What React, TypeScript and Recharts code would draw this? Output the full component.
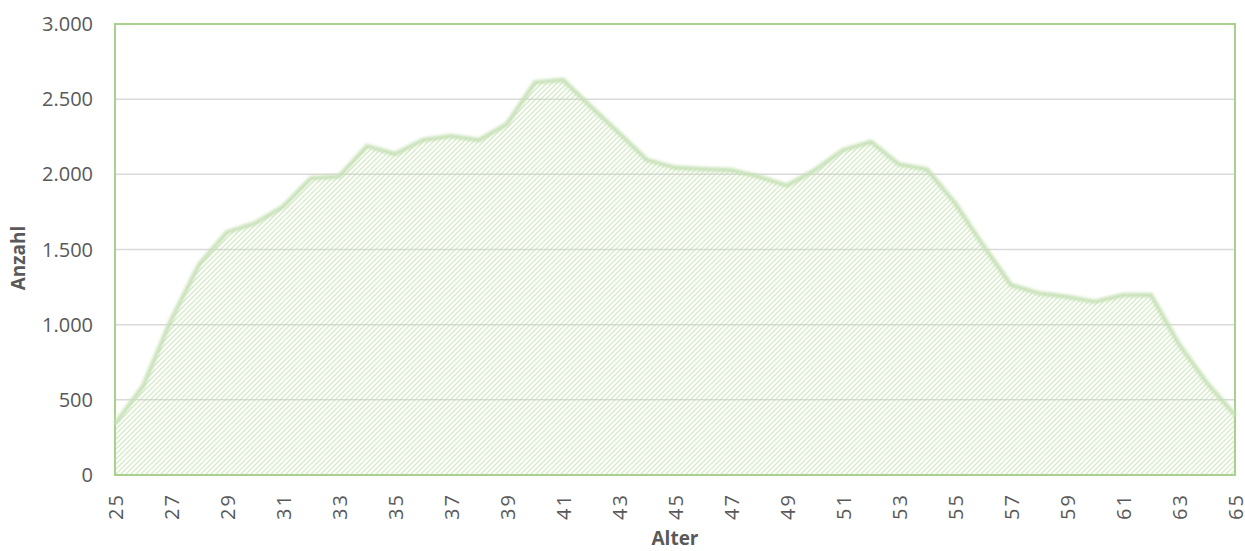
import { ComposedChart, Area, Line, XAxis, YAxis, CartesianGrid, ReferenceArea } from "recharts";

const ages = [
  25, 26, 27, 28, 29, 30, 31, 32, 33, 34, 35, 36, 37, 38, 39, 40, 41, 42, 43, 44, 45,
  46, 47, 48, 49, 50, 51, 52, 53, 54, 55, 56, 57, 58, 59, 60, 61, 62, 63, 64, 65,
];
const counts = [
  340, 590, 1030, 1400, 1615, 1675, 1785, 1975, 1985, 2189, 2135, 2228, 2255, 2228, 2335,
  2612, 2628, 2450, 2275, 2095, 2045, 2035, 2029, 1985, 1925, 2029, 2162, 2217, 2067, 2033,
  1809, 1530, 1264, 1209, 1186, 1153, 1197, 1197, 870, 612, 400,
];
const xTicks = [25, 27, 29, 31, 33, 35, 37, 39, 41, 43, 45, 47, 49, 51, 53, 55, 57, 59, 61, 63, 65];
const yTicks = [0, 500, 1000, 1500, 2000, 2500, 3000];

const data = ages.map((a, i) => ({ alter: a, anzahl: counts[i] }));

const font = "'Open Sans', sans-serif";
const grey = "#595959";
const green = "#a9d18e";

const fmt = (v: number) => v.toLocaleString("de-DE");

// rotated age labels, read bottom to top
const XTick = ({ x, y, payload }: any) => {
  const bx = x + 8;
  const by = y + 10;
  return (
    <text
      x={bx}
      y={by}
      transform={`rotate(-90 ${bx} ${by})`}
      textAnchor="end"
      fill={grey}
      fontSize={20}
      fontFamily={font}
      letterSpacing={2}
    >
      {payload.value}
    </text>
  );
};

export default function App() {
  return (
    <div style={{ position: "absolute", left: 0, top: 0 }}>
      <ComposedChart
        width={1245}
        height={551}
        data={data}
        margin={{ top: 24, right: 10, bottom: 0, left: 0 }}
      >
        <defs>
          <pattern id="hatch" width="5" height="5" patternUnits="userSpaceOnUse">
            <path
              d="M0,5 L5,0 M-1,1 L1,-1 M4,6 L6,4"
              stroke="#b9dca2"
              strokeWidth={1.3}
            />
          </pattern>
          <filter id="soft" x="-2%" y="-10%" width="104%" height="120%">
            <feGaussianBlur stdDeviation="1.5" />
          </filter>
        </defs>
        <CartesianGrid vertical={false} stroke="#d9d9d9" strokeWidth={1.5} />
        <XAxis
          dataKey="alter"
          type="number"
          domain={[25, 65]}
          ticks={xTicks}
          axisLine={false}
          tickLine={false}
          height={76}
          tick={<XTick />}
          interval={0}
          label={{
            content: () => (
              <text
                x={675}
                y={545}
                textAnchor="middle"
                fill={grey}
                fontSize={19}
                fontWeight={700}
                fontFamily={font}
              >
                Alter
              </text>
            ),
          }}
        />
        <YAxis
          domain={[0, 3000]}
          ticks={yTicks}
          width={115}
          axisLine={false}
          tickLine={false}
          tickMargin={16}
          tickFormatter={fmt}
          tick={{ fill: grey, fontSize: 20, fontFamily: font }}
          label={{
            content: () => (
              <text
                x={25}
                y={258}
                transform="rotate(-90 25 258)"
                textAnchor="middle"
                fill={grey}
                fontSize={19}
                fontWeight={700}
                fontFamily={font}
              >
                Anzahl
              </text>
            ),
          }}
        />
        <Area
          type="linear"
          dataKey="anzahl"
          stroke="none"
          fill="url(#hatch)"
          isAnimationActive={false}
          dot={false}
          activeDot={false}
        />
        <Line
          type="linear"
          dataKey="anzahl"
          stroke="#c5e0b4"
          strokeWidth={4}
          filter="url(#soft)"
          isAnimationActive={false}
          dot={false}
          activeDot={false}
        />
        <ReferenceArea
          x1={25}
          x2={65}
          y1={0}
          y2={3000}
          fill="none"
          stroke={green}
          strokeWidth={2}
          ifOverflow="visible"
        />
      </ComposedChart>
    </div>
  );
}
